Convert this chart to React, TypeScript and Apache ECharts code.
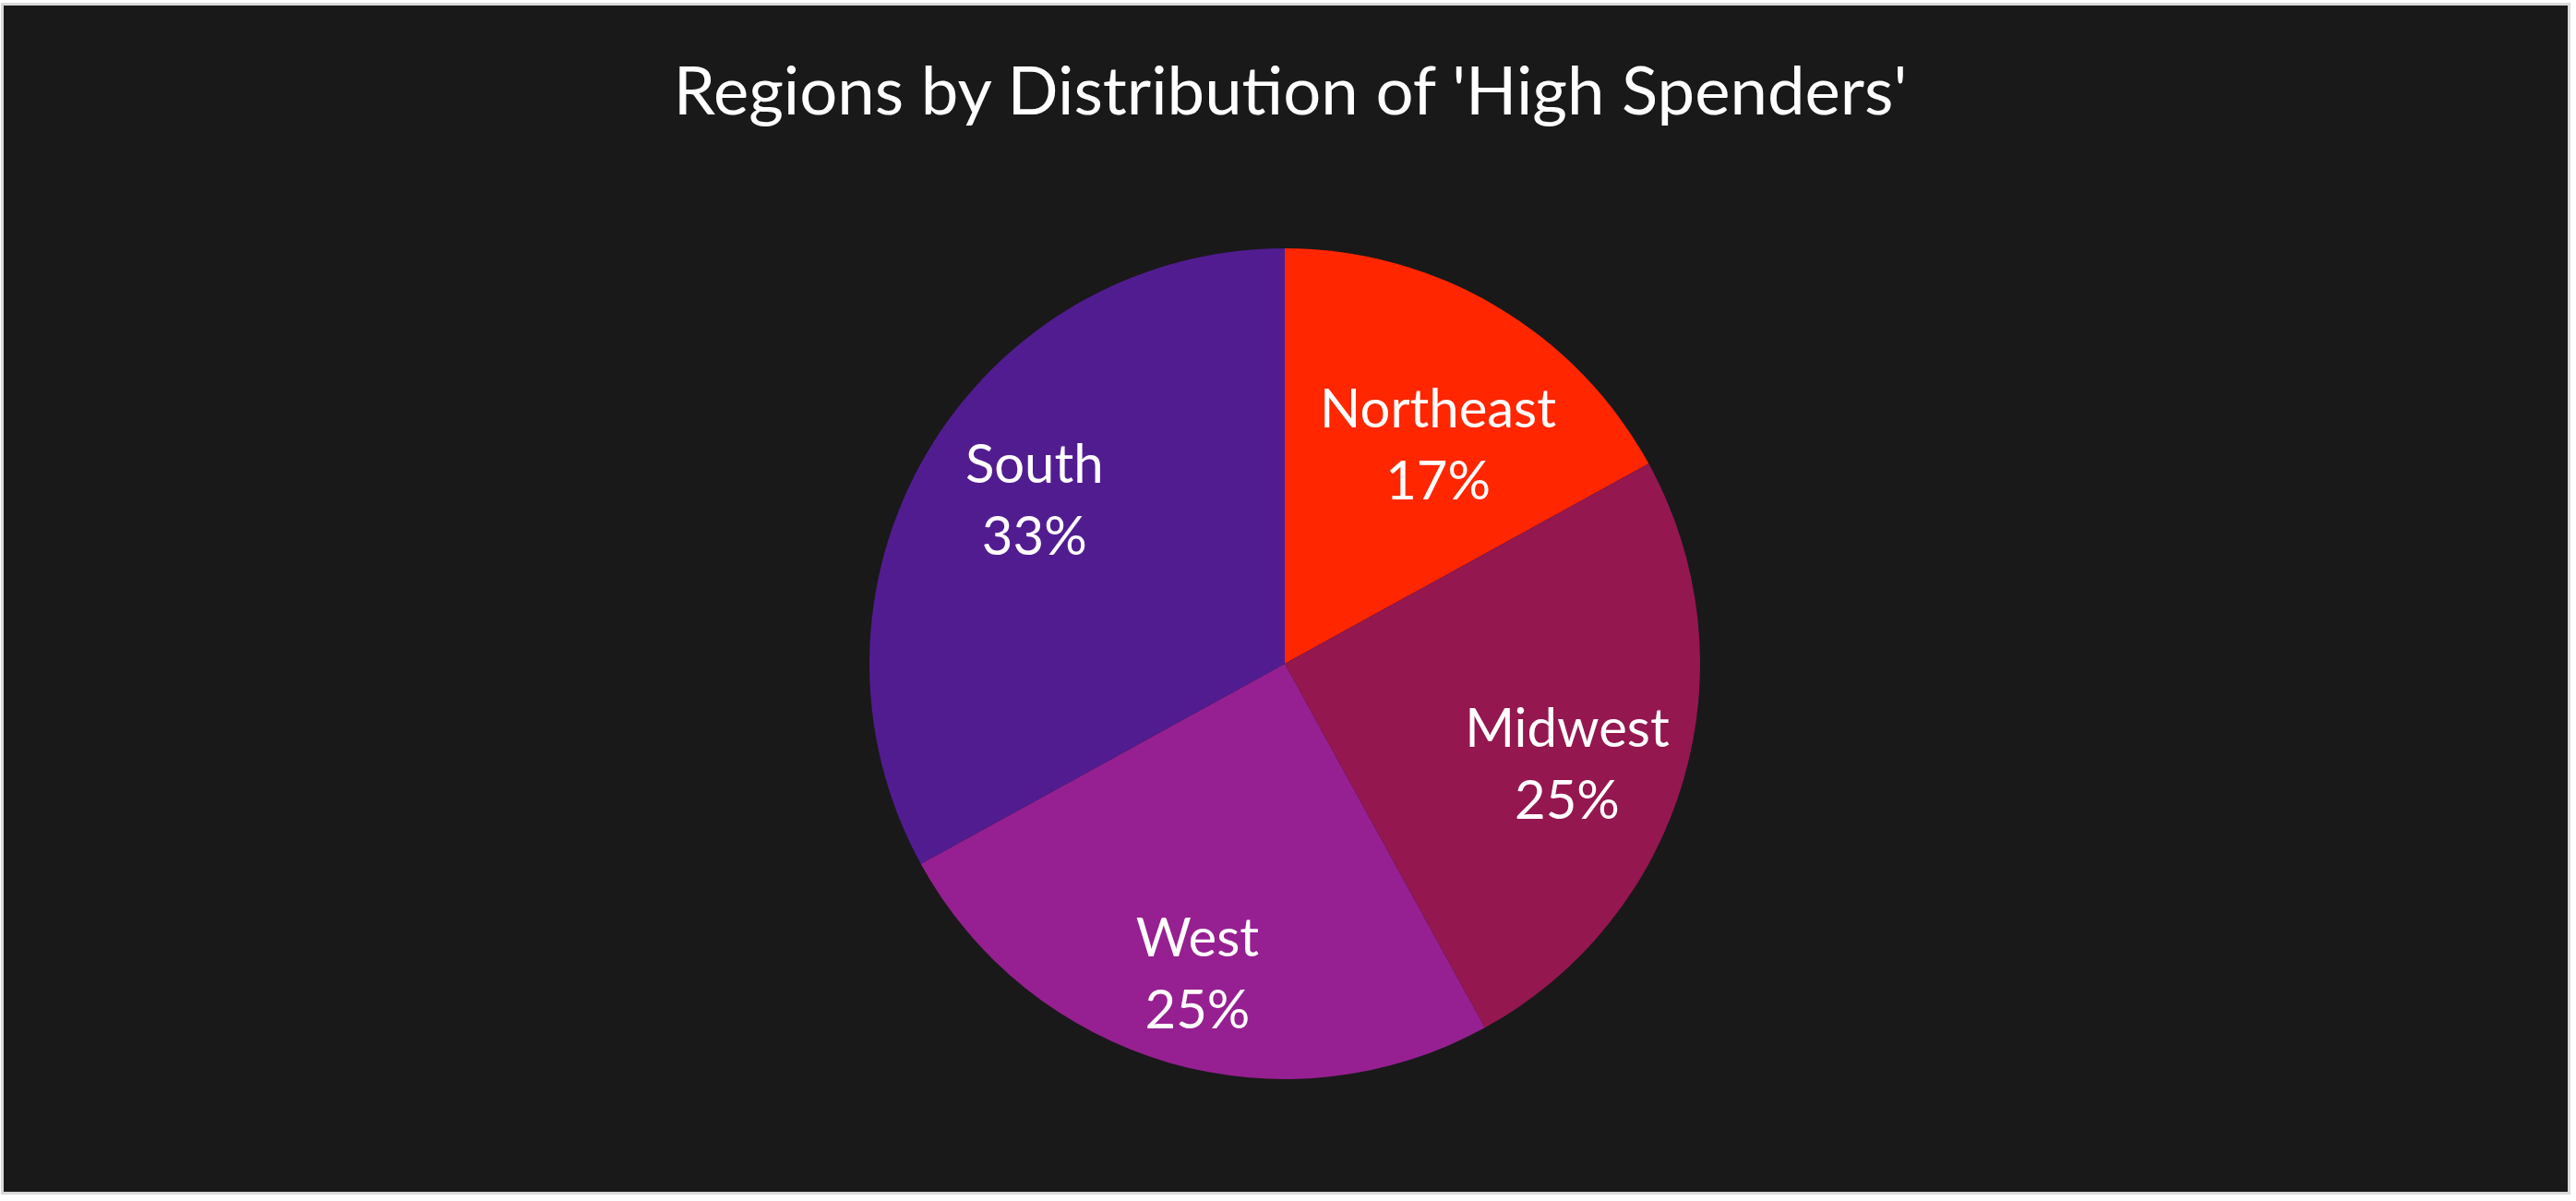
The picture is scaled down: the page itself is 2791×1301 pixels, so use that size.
import React, { useEffect, useRef } from "react";
import * as echarts from "echarts";

const titleText = "Regions by Distribution of 'High Spenders'";
const regions = ["Northeast", "Midwest", "West", "South"];
const shares = [17, 25, 25, 33];
const sliceColors = ["#FF2600", "#94174F", "#962091", "#521C91"];
const labelOffsets: [number, number][] = [
  [50, -43],
  [87, 43],
  [-31, 115],
  [-75, -63],
];

export default function App() {
  const ref = useRef<HTMLDivElement>(null);
  useEffect(() => {
    document.body.style.margin = "0";
    const chart = echarts.init(ref.current!, undefined, { renderer: "svg" });
    chart.setOption({
      animation: false,
      backgroundColor: "#191919",
      title: {
        text: titleText,
        left: 1389,
        top: 48,
        textAlign: "center",
        textStyle: {
          color: "#ffffff",
          fontFamily: "Lato",
          fontWeight: "normal",
          fontSize: 72.5,
          lineHeight: 72,
        },
      },
      series: [
        {
          type: "pie",
          center: [1388, 713],
          radius: [0, 450],
          startAngle: 90,
          clockwise: true,
          percentPrecision: 0,
          avoidLabelOverlap: false,
          itemStyle: { borderWidth: 0 },
          label: {
            show: true,
            position: "inside",
            formatter: "{b}\n{d}%",
            color: "#ffffff",
            fontFamily: "Lato",
            fontSize: 58,
            lineHeight: 78,
            textBorderWidth: 0,
          },
          labelLine: { show: false },
          emphasis: { disabled: true },
          data: regions.map((name, i) => ({
            name,
            value: shares[i],
            itemStyle: { color: sliceColors[i] },
            label: { offset: labelOffsets[i] },
          })),
        },
      ],
    });
    return () => chart.dispose();
  }, []);
  return (
    <div
      style={{
        position: "fixed",
        left: 0,
        top: 0,
        width: 2791,
        height: 1301,
        background: "#ffffff",
      }}
    >
      <div
        style={{
          position: "absolute",
          left: 1,
          top: 3,
          width: 2784,
          height: 1291,
          border: "3px solid #d9d9d9",
          boxSizing: "border-box",
        }}
      >
        <div ref={ref} style={{ width: 2778, height: 1285 }} />
      </div>
    </div>
  );
}
